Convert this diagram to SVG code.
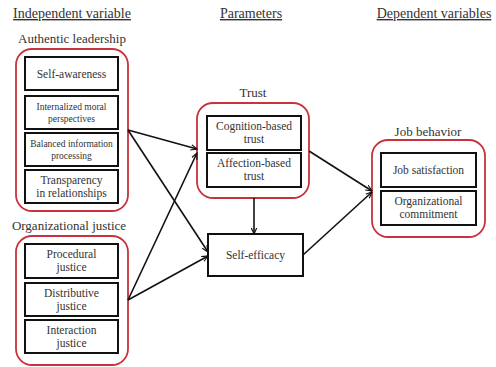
<svg xmlns="http://www.w3.org/2000/svg" width="496" height="367" viewBox="0 0 496 367">
<defs>
<marker id="ah" viewBox="0 0 10 10" refX="9" refY="5" markerWidth="7" markerHeight="7" orient="auto" markerUnits="userSpaceOnUse">
<path d="M0,1 L9,5 L0,9" fill="none" stroke="#111" stroke-width="1.6"/>
</marker>
<style>
text{fill:#333;text-anchor:middle}
.hd{font-size:14px;text-decoration:underline}
.gl{font-size:13px}
.bx{font-size:11.5px}
.sm{font-size:9.5px}
.grp{fill:none;stroke:#c8323c;stroke-width:1.8}
.box{fill:#fff;stroke:#111;stroke-width:2}
.cn{stroke:#111;stroke-width:1.6;fill:none;marker-end:url(#ah)}
</style>
</defs>
<rect width="496" height="367" fill="#fff"/>
<g font-family="Liberation Serif, serif">
<text class="hd" x="72" y="18">Independent variable</text>
<text class="hd" x="251" y="18">Parameters</text>
<text class="hd" x="434" y="18">Dependent variables</text>

<g id="authentic-leadership">
<text class="gl" x="72" y="43">Authentic leadership</text>
<rect class="grp" x="16" y="49" width="112" height="162" rx="16"/>
<g id="self-awareness"><rect class="box" x="25" y="57" width="93" height="33"/><text class="bx" x="71.5" y="77.5">Self-awareness</text></g>
<g id="internalized"><rect class="box" x="25" y="96" width="93" height="33"/><text class="sm" x="71.5" y="110">Internalized moral</text><text class="sm" x="71.5" y="122">perspectives</text></g>
<g id="balanced"><rect class="box" x="25" y="133" width="93" height="33"/><text class="sm" x="71.5" y="147">Balanced information</text><text class="sm" x="71.5" y="159">processing</text></g>
<g id="transparency"><rect class="box" x="25" y="170" width="93" height="33"/><text class="bx" x="71.5" y="184">Transparency</text><text class="bx" x="71.5" y="197">in relationships</text></g>
</g>

<g id="organizational-justice">
<text class="gl" x="69" y="230">Organizational justice</text>
<rect class="grp" x="16" y="236" width="112" height="129" rx="16"/>
<g id="procedural"><rect class="box" x="25" y="244" width="93" height="34"/><text class="bx" x="71.5" y="258">Procedural</text><text class="bx" x="71.5" y="271">justice</text></g>
<g id="distributive"><rect class="box" x="25" y="283" width="93" height="33"/><text class="bx" x="71.5" y="297">Distributive</text><text class="bx" x="71.5" y="310">justice</text></g>
<g id="interaction"><rect class="box" x="25" y="320" width="93" height="33"/><text class="bx" x="71.5" y="334">Interaction</text><text class="bx" x="71.5" y="347">justice</text></g>
</g>

<g id="trust">
<text class="gl" x="253" y="97">Trust</text>
<rect class="grp" x="197" y="103" width="112" height="95" rx="16"/>
<g id="cognition"><rect class="box" x="207" y="116" width="94" height="34"/><text class="bx" x="254" y="130">Cognition-based</text><text class="bx" x="254" y="143">trust</text></g>
<g id="affection"><rect class="box" x="207" y="153" width="94" height="34"/><text class="bx" x="254" y="167">Affection-based</text><text class="bx" x="254" y="180">trust</text></g>
</g>

<g id="self-efficacy">
<rect class="box" x="208" y="234" width="95" height="42"/><text class="bx" x="255.5" y="259">Self-efficacy</text>
</g>

<g id="job-behavior">
<text class="gl" x="428" y="136">Job behavior</text>
<rect class="grp" x="372" y="140" width="113" height="97" rx="16"/>
<g id="job-satisfaction"><rect class="box" x="381" y="153" width="95" height="34"/><text class="bx" x="428.5" y="174">Job satisfaction</text></g>
<g id="org-commitment"><rect class="box" x="381" y="191" width="95" height="34"/><text class="bx" x="428.5" y="205">Organizational</text><text class="bx" x="428.5" y="218">commitment</text></g>
</g>
</g>

<g id="connectors">
<path class="cn" d="M128,130 L197,149"/>
<path class="cn" d="M128,130 L208,252"/>
<path class="cn" d="M128,300 L197,153"/>
<path class="cn" d="M128,300 L208,256"/>
<path class="cn" d="M254,198 L254,234"/>
<path class="cn" d="M309,151 L372,191"/>
<path class="cn" d="M303,255 L372,192"/>
</g>
</svg>
